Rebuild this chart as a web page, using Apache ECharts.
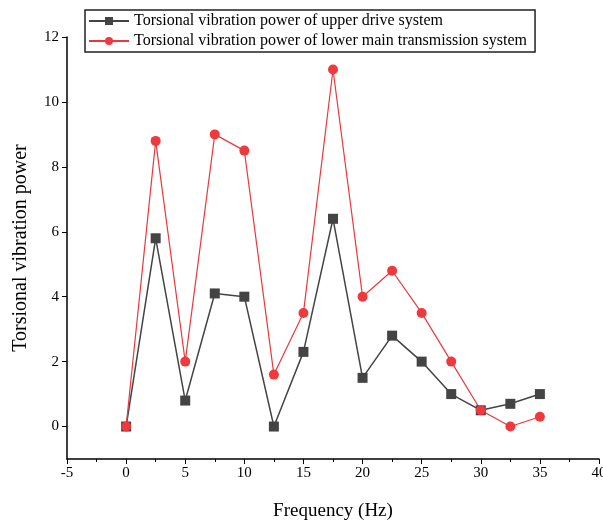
<!DOCTYPE html>
<html>
<head>
<meta charset="utf-8">
<script src="https://cdn.jsdelivr.net/npm/echarts@6/dist/echarts.min.js"></script>
<style>
  html, body { margin: 0; padding: 0; background: #fff; }
  #main { width: 603px; height: 528px; }
</style>
</head>
<body>
<div id="main"></div>
<script>
// 频率 (Hz)
const frequency = [0, 2.5, 5, 7.5, 10, 12.5, 15, 17.5, 20, 22.5, 25, 27.5, 30, 32.5, 35];
// 上部驱动系统
const upperDrive = [0, 5.8, 0.8, 4.1, 4.0, 0, 2.3, 6.4, 1.5, 2.8, 2.0, 1.0, 0.5, 0.7, 1.0];
// 下部主传动系统
const lowerMain = [0, 8.8, 2.0, 9.0, 8.5, 1.6, 3.5, 11.0, 4.0, 4.8, 3.5, 2.0, 0.5, 0.0, 0.3];
// y 轴刻度
const yTicks = [0, 2, 4, 6, 8, 10, 12];

const seriesNames = [
  'Torsional vibration power of upper drive system',
  'Torsional vibration power of lower main transmission system'
];

function pairs(ys) {
  return frequency.map((x, i) => [x, ys[i]]);
}

var myChart = echarts.init(document.getElementById('main'));

var font = 'Liberation Serif';

var option = {
  animation: false,
  textStyle: { fontFamily: font },
  grid: { left: 67, right: 4, top: 37, bottom: 69, outerBoundsMode: 'none' },
  legend: {
    orient: 'vertical',
    left: 85,
    top: 10,
    itemWidth: 40,
    itemHeight: 10,
    itemGap: 4,
    padding: [3, 8, 3, 3],
    borderColor: '#222',
    borderWidth: 1.5,
    borderRadius: 0,
    backgroundColor: '#fff',
    textStyle: { fontFamily: font, fontSize: 16, color: '#000' },
    data: seriesNames
  },
  xAxis: {
    type: 'value',
    min: -5,
    max: 40,
    interval: 5,
    name: 'Frequency (Hz)',
    nameLocation: 'middle',
    nameGap: 43,
    nameTextStyle: { fontFamily: font, fontSize: 19, color: '#000' },
    axisLine: { onZero: false, lineStyle: { color: '#000', width: 1.5 } },
    axisTick: { length: 5, lineStyle: { color: '#000' } },
    minorTick: { show: true, splitNumber: 2, length: 3, lineStyle: { color: '#000' } },
    axisLabel: { fontFamily: font, fontSize: 15, color: '#000', margin: 7 },
    splitLine: { show: false }
  },
  yAxis: {
    type: 'value',
    min: -1,
    max: 12,
    interval: 2,
    name: 'Torsional vibration power',
    nameLocation: 'middle',
    nameGap: 36,
    nameTextStyle: { fontFamily: font, fontSize: 20, color: '#000' },
    axisLine: { show: true, onZero: false, lineStyle: { color: '#000', width: 1.5 } },
    axisTick: { show: true, length: 5, lineStyle: { color: '#000' }, customValues: yTicks },
    minorTick: { show: true, splitNumber: 2, length: 3, lineStyle: { color: '#000' } },
    axisLabel: {
      fontFamily: font, fontSize: 15, color: '#000', margin: 8,
      customValues: yTicks
    },
    splitLine: { show: false }
  },
  series: [
    {
      name: seriesNames[0],
      type: 'line',
      data: pairs(upperDrive),
      symbol: 'rect',
      symbolSize: 10,
      itemStyle: { color: '#444' },
      lineStyle: { color: '#444', width: 1.5 }
    },
    {
      name: seriesNames[1],
      type: 'line',
      data: pairs(lowerMain),
      symbol: 'circle',
      symbolSize: 10,
      itemStyle: { color: '#ee3a3e' },
      lineStyle: { color: '#e8393d', width: 1.2 }
    }
  ]
};

myChart.setOption(option);
</script>
</body>
</html>
